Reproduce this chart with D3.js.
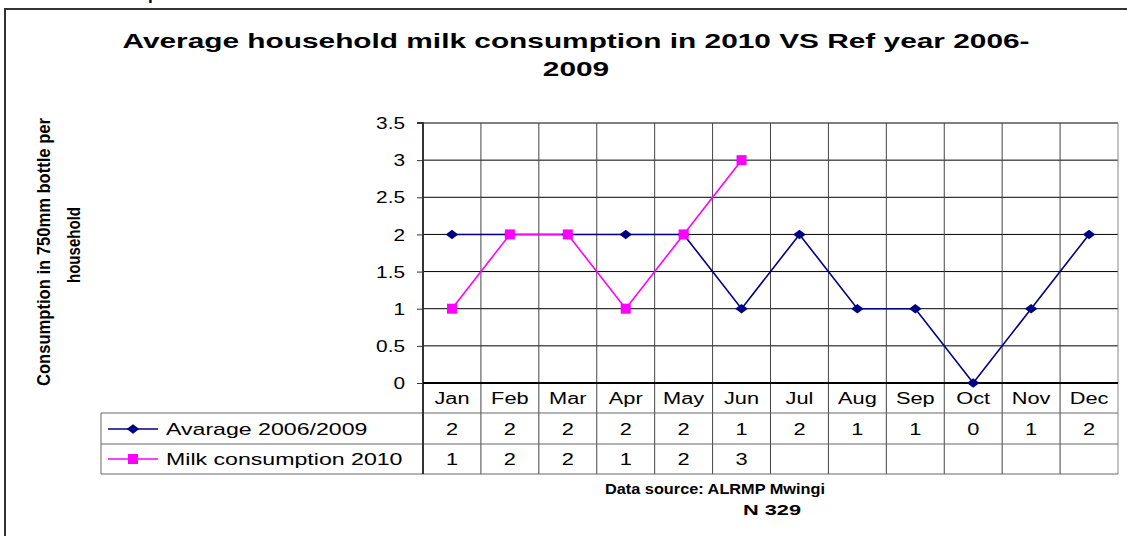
<!DOCTYPE html>
<html><head><meta charset="utf-8">
<script src="https://cdn.jsdelivr.net/npm/d3@7"></script>
<style>
body{margin:0;background:#fff;}
svg{display:block;font-family:"Liberation Sans",Arial,sans-serif;}
</style></head>
<body>
<svg id="c" width="1127" height="536"></svg>
<script>
const months = ["Jan","Feb","Mar","Apr","May","Jun","Jul","Aug","Sep","Oct","Nov","Dec"];
const average0609 = [2,2,2,2,2,1,2,1,1,0,1,2];
const milk2010 = [1,2,2,1,2,3];
const yTicks = [0,0.5,1,1.5,2,2.5,3,3.5];
const seriesNames = ["Avarage 2006/2009","Milk consumption 2010"];
const titleLines = ["Average household milk consumption in 2010 VS Ref year 2006-","2009"];
const yLabelLines = ["Consumption in 750mm bottle per","household"];
const footerLines = ["Data source: ALRMP Mwingi","N 329"];

const svg = d3.select("#c");
const L = 423, R = 1118, T = 123, B = 383;
const rowH = [383, 413, 444, 474];
const legendLeft = 101;

function stretch(sel, f){
  sel.each(function(){
    const w = this.getComputedTextLength();
    d3.select(this).attr("textLength", w*f).attr("lengthAdjust","spacingAndGlyphs");
  });
  return sel;
}

// outer frame
svg.append("rect").attr("x",5).attr("y",9).attr("width",1140).attr("height",560)
  .attr("fill","none").attr("stroke","#333").attr("stroke-width",2);
// cut-off glyph at top
svg.append("text").attr("x",148).attr("y",0).attr("font-size",17).attr("font-weight","bold").text("p");

const x = d3.scaleBand().domain(months).range([L,R]);
const y = d3.scaleLinear().domain([0,3.5]).range([B,T]);

svg.append("g").selectAll("line").data(yTicks).join("line")
  .attr("x1",L).attr("x2",R).attr("y1",d=>y(d)).attr("y2",d=>y(d))
  .attr("stroke","#000").attr("stroke-width",1);

svg.append("g").selectAll("line").data(months.slice(1)).join("line")
  .attr("x1",d=>x(d)).attr("x2",d=>x(d)).attr("y1",T).attr("y2",rowH[3])
  .attr("stroke","#444").attr("stroke-width",1);
svg.append("line").attr("x1",R).attr("x2",R).attr("y1",T).attr("y2",rowH[3]).attr("stroke","#888");
[rowH[1],rowH[2],rowH[3]].forEach(h=>{
  svg.append("line").attr("x1",legendLeft).attr("x2",R).attr("y1",h).attr("y2",h).attr("stroke","#666");
});
svg.append("line").attr("x1",legendLeft).attr("x2",legendLeft).attr("y1",rowH[1]).attr("y2",rowH[3]).attr("stroke","#666");

const yAxis = d3.axisLeft(y).tickValues(yTicks).tickSize(6).tickPadding(12).tickFormat(d=>d);
const ga = svg.append("g").attr("transform",`translate(${L},0)`).call(yAxis);
ga.select(".domain").attr("stroke","#333").attr("stroke-width",2).attr("d",`M-6,${T}H0V${rowH[3]}`);
ga.selectAll(".tick line").attr("stroke","#333");
stretch(ga.selectAll(".tick text").attr("font-size",16).attr("fill","#000")
  .attr("font-family","Liberation Sans, Arial, sans-serif").attr("dy","0.35em"), 1.3);
svg.append("line").attr("x1",L).attr("x2",R).attr("y1",B).attr("y2",B).attr("stroke","#000").attr("stroke-width",2);

stretch(svg.append("g").selectAll("text").data(months).join("text")
  .attr("x",d=>x(d)+x.bandwidth()/2).attr("y",404).attr("text-anchor","middle")
  .attr("font-size",16).text(d=>d), 1.36);
stretch(svg.append("g").selectAll("text").data(average0609).join("text")
  .attr("x",(d,i)=>x(months[i])+x.bandwidth()/2).attr("y",435).attr("text-anchor","middle")
  .attr("font-size",16).text(d=>d), 1.36);
stretch(svg.append("g").selectAll("text").data(milk2010).join("text")
  .attr("x",(d,i)=>x(months[i])+x.bandwidth()/2).attr("y",465).attr("text-anchor","middle")
  .attr("font-size",16).text(d=>d), 1.36);

const cx = i => x(months[i])+x.bandwidth()/2;
const line = d3.line().x((d,i)=>cx(i)).y(d=>y(d));
svg.append("path").datum(average0609).attr("d",line).attr("fill","none").attr("stroke","#000080").attr("stroke-width",1.6);
svg.append("path").datum(milk2010).attr("d",line).attr("fill","none").attr("stroke","#FF00FF").attr("stroke-width",1.6);
const diamond = d3.symbol().type(d3.symbolDiamond2).size(70);
svg.append("g").selectAll("path").data(average0609).join("path")
  .attr("d",diamond).attr("transform",(d,i)=>`translate(${cx(i)},${y(d)}) scale(1.2,0.9)`).attr("fill","#000080");
svg.append("g").selectAll("rect").data(milk2010).join("rect")
  .attr("x",(d,i)=>cx(i)-5).attr("y",d=>y(d)-5).attr("width",10).attr("height",10).attr("fill","#FF00FF");

const legY = [429, 459];
const colors = ["#000080","#FF00FF"];
seriesNames.forEach((n,k)=>{
  svg.append("line").attr("x1",108).attr("x2",158).attr("y1",legY[k]).attr("y2",legY[k]).attr("stroke",colors[k]).attr("stroke-width",1.5);
  if(k===0) svg.append("path").attr("d",diamond).attr("transform",`translate(133,${legY[k]}) scale(1.2,0.9)`).attr("fill",colors[k]);
  else svg.append("rect").attr("x",128).attr("y",legY[k]-5).attr("width",10).attr("height",10).attr("fill",colors[k]);
  stretch(svg.append("text").attr("x",166).attr("y",legY[k]+6).attr("font-size",17).text(n), 1.36);
});

stretch(svg.append("g").selectAll("text").data(titleLines).join("text")
  .attr("x",576).attr("y",(d,i)=>48+i*28).attr("text-anchor","middle")
  .attr("font-size",21).attr("font-weight","bold").text(d=>d), 1.42);

yLabelLines.forEach((t,i)=>{
  svg.append("text").attr("transform",`translate(${50+i*30},${i===0?252:245}) rotate(-90)`)
    .attr("text-anchor","middle").attr("font-size",19).attr("font-weight","bold")
    .attr("textLength",i===0?268:76).attr("lengthAdjust","spacingAndGlyphs").text(t);
});

svg.append("text").attr("x",715).attr("y",494).attr("text-anchor","middle").attr("font-size",15)
  .attr("font-weight","bold").attr("textLength",220).attr("lengthAdjust","spacingAndGlyphs").text(footerLines[0]);
svg.append("text").attr("x",772).attr("y",515).attr("text-anchor","middle").attr("font-size",15)
  .attr("font-weight","bold").attr("textLength",58).attr("lengthAdjust","spacingAndGlyphs").text(footerLines[1]);
</script>
</body></html>
